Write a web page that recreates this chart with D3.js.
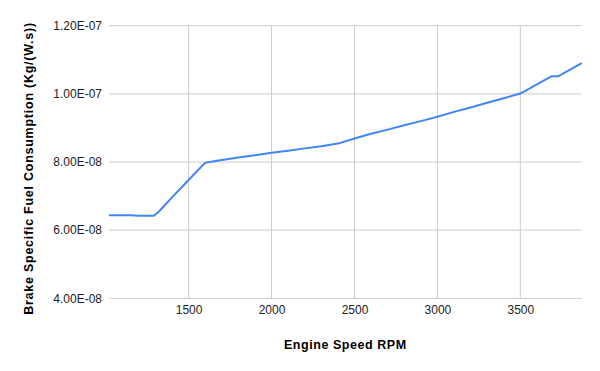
<!DOCTYPE html>
<html>
<head>
<meta charset="utf-8">
<script src="https://cdn.jsdelivr.net/npm/d3@7"></script>
<style>
  body { margin: 0; background: #fff; }
  text { font-family: "Liberation Sans", Arial, sans-serif; }
</style>
</head>
<body>
<div id="chart"></div>
<script>
// engine speed (RPM) and brake specific fuel consumption
const rpm = [1020, 1150, 1200, 1290, 1320, 1400, 1500, 1600, 1700, 1800, 1900, 2000,
  2100, 2200, 2300, 2400, 2500, 2600, 2700, 2800, 2900, 3000, 3100, 3200, 3300, 3400,
  3500, 3600, 3690, 3730, 3870];
const bsfc = [6.44e-8, 6.44e-8, 6.42e-8, 6.42e-8, 6.54e-8, 6.96e-8, 7.47e-8, 7.98e-8,
  8.06e-8, 8.13e-8, 8.20e-8, 8.27e-8, 8.33e-8, 8.40e-8, 8.46e-8, 8.54e-8, 8.69e-8,
  8.83e-8, 8.95e-8, 9.08e-8, 9.20e-8, 9.33e-8, 9.47e-8, 9.60e-8, 9.74e-8, 9.87e-8,
  1.001e-7, 1.028e-7, 1.052e-7, 1.052e-7, 1.090e-7];
const xTicks = [1500, 2000, 2500, 3000, 3500];
const yTicks = [4e-8, 6e-8, 8e-8, 1e-7, 1.2e-7];
const xTitle = "Engine Speed RPM";
const yTitle = "Brake Specific Fuel Consumption (Kg/(W.s))";

const width = 600, height = 371;
const margin = {top: 25.7, right: 18.3, bottom: 72.7, left: 109};

const svg = d3.select("#chart").append("svg")
  .attr("width", width)
  .attr("height", height);

const x = d3.scaleLinear()
  .domain([d3.min(rpm), d3.max(rpm)])
  .range([margin.left, width - margin.right]);

const y = d3.scaleLinear()
  .domain([4e-8, 1.2e-7])
  .range([height - margin.bottom, margin.top]);

// format like 1.20E-07
function sci(v) {
  let e = Math.floor(Math.log10(v) + 1e-9);
  let m = v / Math.pow(10, e);
  let sign = e < 0 ? "-" : "+";
  return m.toFixed(2) + "E" + sign + String(Math.abs(e)).padStart(2, "0");
}

// gridlines
svg.append("g").selectAll("line.h")
  .data(yTicks)
  .join("line")
  .attr("x1", margin.left)
  .attr("x2", width - margin.right)
  .attr("y1", d => y(d))
  .attr("y2", d => y(d))
  .attr("stroke", "#cccccc")
  .attr("stroke-width", 1);

svg.append("g").selectAll("line.v")
  .data(xTicks)
  .join("line")
  .attr("x1", d => x(d))
  .attr("x2", d => x(d))
  .attr("y1", margin.top)
  .attr("y2", height - margin.bottom)
  .attr("stroke", "#cccccc")
  .attr("stroke-width", 1);

// axes (labels only, no domain)
const xAxis = svg.append("g")
  .attr("transform", `translate(0,${height - margin.bottom})`)
  .call(d3.axisBottom(x).tickValues(xTicks).tickSize(0).tickPadding(7).tickFormat(d3.format("d")));
xAxis.select(".domain").remove();
xAxis.selectAll("text").attr("font-size", 12).attr("fill", "#222").attr("font-family", "Liberation Sans, Arial, sans-serif");

const yAxis = svg.append("g")
  .attr("transform", `translate(${margin.left},0)`)
  .call(d3.axisLeft(y).tickValues(yTicks).tickSize(0).tickPadding(7).tickFormat(sci));
yAxis.select(".domain").remove();
yAxis.selectAll("text").attr("font-size", 12).attr("fill", "#222").attr("font-family", "Liberation Sans, Arial, sans-serif");

// the series line
const line = d3.line()
  .x((d, i) => x(rpm[i]))
  .y(d => y(d));

svg.append("path")
  .datum(bsfc)
  .attr("d", line)
  .attr("fill", "none")
  .attr("stroke", "#4285f4")
  .attr("stroke-width", 2)
  .attr("stroke-linejoin", "round");

// titles
svg.append("text")
  .attr("x", (margin.left + width - margin.right) / 2)
  .attr("y", 348.5)
  .attr("text-anchor", "middle")
  .attr("font-size", 12.5)
  .attr("letter-spacing", 0.55)
  .attr("font-weight", "bold")
  .attr("fill", "#000")
  .text(xTitle);

svg.append("text")
  .attr("transform", `translate(32.5,168.5) rotate(-90)`)
  .attr("text-anchor", "middle")
  .attr("font-size", 12.5)
  .attr("letter-spacing", 0.75)
  .attr("font-weight", "bold")
  .attr("fill", "#000")
  .text(yTitle);
</script>
</body>
</html>
